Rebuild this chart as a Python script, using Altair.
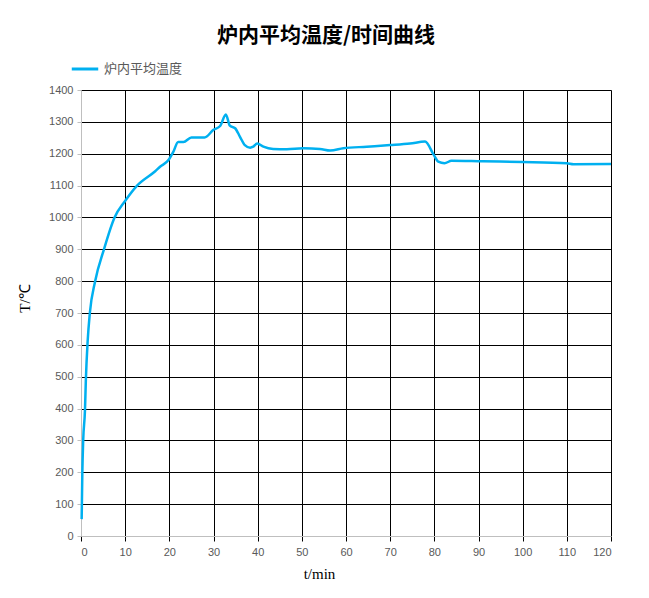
import altair as alt
import pandas as pd

t_min = [0.15, 0.3, 0.5, 0.9, 1.1, 1.5, 2.0, 3.2, 5.2, 7.6, 9.9, 12.7, 16.8, 17.9,
         19.8, 20.9, 22, 23.2, 25, 28, 30, 31.5, 32.8, 33.7, 34.9, 36, 37.1, 38.3, 39, 39.9,
         41.3, 43.5, 46.6, 50.3, 54.1, 56.4, 59.4, 64.7, 70, 74.5, 77.9, 79.8, 80.9, 82.3,
         83.9, 91, 100, 110, 111.5, 120]
temp = [53, 198, 301, 395, 490, 610, 700, 800, 900, 1000, 1050, 1100, 1145, 1159,
        1180, 1206, 1237, 1237, 1251, 1251, 1275, 1287, 1323, 1288, 1280, 1253, 1227, 1219, 1222, 1232,
        1222, 1215, 1214, 1217, 1215, 1210, 1217, 1222, 1227, 1232, 1238, 1198, 1175, 1170,
        1178, 1176, 1174, 1170, 1167, 1168]
series = "炉内平均温度"
x_ticks = list(range(0, 121, 10))
y_ticks = list(range(0, 1401, 100))

df = pd.DataFrame({"t": t_min, "T": temp, "s": [series] * len(t_min)})

chart = alt.Chart(df).mark_line(strokeWidth=2.5, interpolate="monotone").encode(
    x=alt.X("t:Q", scale=alt.Scale(domain=[0, 120], nice=False),
            axis=alt.Axis(values=x_ticks, format="d", title="t/min", titleX=238, titleY=30,
                          titleFont="Liberation Serif", titleFontSize=15,
                          titleFontWeight="normal", titleColor="#000000",
                          grid=True, gridColor="#000000", gridWidth=1,
                          domainColor="#bfbfbf", tickColor="#000000", tickSize=5,
                          labelFont="Liberation Sans", labelFontSize=11,
                          labelColor="#595959", labelPadding=5)),
    y=alt.Y("T:Q", scale=alt.Scale(domain=[0, 1400], nice=False),
            axis=alt.Axis(values=y_ticks, format="d", title="T/℃", titleX=-49, titleY=208,
                          titleFont="Liberation Serif", titleFontSize=15,
                          titleFontWeight="normal", titleColor="#000000",
                          grid=True, gridColor="#000000", gridWidth=1,
                          domainColor="#bfbfbf", tickColor="#bfbfbf", tickSize=4,
                          labelFont="Liberation Sans", labelFontSize=11,
                          labelColor="#595959", labelPadding=4)),
    color=alt.Color("s:N", scale=alt.Scale(range=["#00B0F0"]),
                    legend=alt.Legend(title=None, orient="none", legendX=-11, legendY=-36,
                                      symbolType="stroke", symbolStrokeWidth=3,
                                      symbolSize=700, labelFont="Noto Sans CJK SC",
                                      labelFontSize=13, labelColor="#595959",
                                      labelOffset=4)),
).properties(
    width=530, height=446,
    title=alt.TitleParams("炉内平均温度/时间曲线", font="Noto Sans CJK SC", fontSize=21,
                          fontWeight="bold", color="#000000", anchor="middle", dx=-20,
                          offset=8),
    padding={"left": 81, "top": 90, "right": 38, "bottom": 62},
    autosize=alt.AutoSizeParams(type="none"),
).configure_view(stroke="#000000", strokeWidth=1).configure(background="#ffffff")

chart.save("out.html", embed_options={"renderer": "svg", "actions": False})
